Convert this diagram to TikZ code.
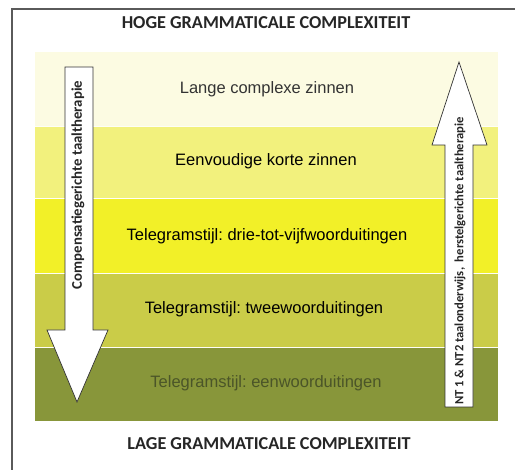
\documentclass[tikz,border=0pt]{standalone}
\usepackage{fontspec}
\setmainfont{Liberation Sans}
\newfontfamily\calib{Carlito}
\definecolor{bandA}{RGB}{252,251,226}
\definecolor{bandB}{RGB}{242,241,125}
\definecolor{bandC}{RGB}{242,240,40}
\definecolor{bandD}{RGB}{202,204,72}
\definecolor{bandE}{RGB}{136,150,58}
\definecolor{framegray}{RGB}{90,90,90}
\definecolor{lowtext}{RGB}{75,85,40}
\begin{document}
\begin{tikzpicture}[x=1pt,y=-1pt,
  band/.style={fill=#1,draw=none},
  bandtext/.style={font=\fontsize{16.5}{19}\selectfont,text=black,inner sep=0pt},
  titletext/.style={font=\calib\bfseries\fontsize{18.2}{22}\selectfont,text=black!85,inner sep=0pt},
  arrowshape/.style={fill=white,draw=black!80,line width=0.7pt,line join=miter},
  arrowtext/.style={font=\calib\bfseries\fontsize{#1}{16}\selectfont,text=black!85,inner sep=0pt,rotate=90}]
\useasboundingbox (0,0) rectangle (515,470);
\fill[white] (0,0) rectangle (515,470);
% frame
\draw[framegray,line width=1.3pt] (12,470) -- (12,9) -- (515,9);
% bands
\fill[band=bandA] (35,52) rectangle (498,126);
\fill[band=bandB] (35,126) rectangle (498,198);
\fill[band=bandC] (35,198) rectangle (498,273);
\fill[band=bandD] (35,273) rectangle (498,347);
\fill[band=bandE] (35,347) rectangle (498,421);
% thin light separators
\foreach \yy in {126,198,273,347} \draw[white!70!bandA,line width=0.8pt] (35,\yy) -- (498,\yy);
% titles
\node[titletext] (hoog) at (266,23) {HOGE GRAMMATICALE COMPLEXITEIT};
\node[titletext] (laag) at (269,444) {LAGE GRAMMATICALE COMPLEXITEIT};
% band texts
\node[bandtext,text=black!80] (t1) at (267,89) {Lange complexe zinnen};
\node[bandtext] (t2) at (266,161) {Eenvoudige korte zinnen};
\node[bandtext] (t3) at (267,236) {Telegramstijl:\ drie-tot-vijfwoorduitingen};
\node[bandtext] (t4) at (264,309) {Telegramstijl:\ tweewoorduitingen};
\node[bandtext,text=lowtext] (t5) at (266,383) {Telegramstijl:\ eenwoorduitingen};
% left arrow (down)
\draw[arrowshape] (65,67) -- (93,67) -- (93,330) -- (108,330) -- (77,402) -- (47,330) -- (65,330) -- cycle;
\node[arrowtext=14.8] (la) at (78,185) {Compensatiegerichte taaltherapie};
% right arrow (up)
\draw[arrowshape] (445,407) -- (445,145) -- (432,145) -- (459,62) -- (487,145) -- (473,145) -- (473,407) -- cycle;
\node[arrowtext=12.6] (ra) at (460,261) {NT 1 \& NT2 taalonderwijs,\ \ herstelgerichte taaltherapie};
\end{tikzpicture}
\end{document}
